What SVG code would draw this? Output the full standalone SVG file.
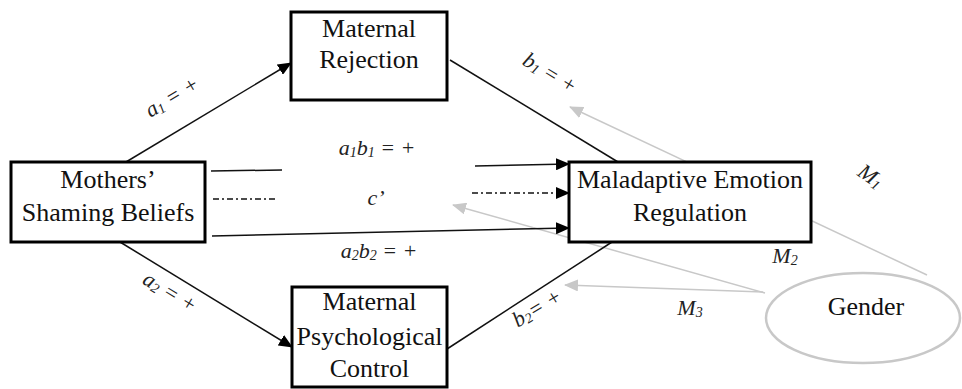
<svg xmlns="http://www.w3.org/2000/svg" width="962" height="389" viewBox="0 0 962 389">
<style>
.box{fill:#fff;stroke:#000;stroke-width:3}
.nt{font-family:"Liberation Serif","Times New Roman",serif;font-size:26px;fill:#111;text-anchor:middle}
.lb{font-family:"Liberation Serif","Times New Roman",serif;font-size:22px;font-style:italic;fill:#222;text-anchor:middle}
.ln{stroke:#111;stroke-width:1.5;fill:none}
.gl{stroke:#c8c8c8;stroke-width:1.5;fill:none}
.dd{stroke-dasharray:6 3 2 3}
</style>
<defs>
<marker id="ah" markerUnits="userSpaceOnUse" markerWidth="14" markerHeight="12" refX="13" refY="6" orient="auto"><path d="M0,0 L14,6 L0,12 Z" fill="#000"/></marker>
<marker id="ag" markerUnits="userSpaceOnUse" markerWidth="14" markerHeight="12" refX="13" refY="6" orient="auto"><path d="M0,0 L14,6 L0,12 Z" fill="#c8c8c8"/></marker>
</defs>
<g id="connectors">
<line class="gl" x1="927" y1="275" x2="570" y2="107" marker-end="url(#ag)"/>
<line class="gl" x1="765" y1="293" x2="453" y2="205" marker-end="url(#ag)"/>
<line class="gl" x1="763" y1="292" x2="565" y2="285" marker-end="url(#ag)"/>
<line class="ln" x1="126" y1="162" x2="291" y2="63" marker-end="url(#ah)"/>
<line class="ln" x1="120" y1="242" x2="292" y2="347" marker-end="url(#ah)"/>
<line class="ln" x1="450" y1="60" x2="618" y2="162"/>
<line class="ln" x1="447" y1="349" x2="612" y2="242"/>
<line class="ln" x1="211" y1="171" x2="282" y2="170"/>
<line class="ln" x1="475" y1="166" x2="569" y2="164" marker-end="url(#ah)"/>
<line class="ln dd" x1="213" y1="199" x2="278" y2="199"/>
<line class="ln dd" x1="472" y1="193" x2="569" y2="193" marker-end="url(#ah)"/>
<line class="ln" x1="212" y1="236" x2="569" y2="228" marker-end="url(#ah)"/>
<text class="lb" transform="rotate(-31 172 97)" x="172" y="104">a<tspan font-size="14" dy="2">1</tspan><tspan dy="-2"> = +</tspan></text>
<text class="lb" transform="rotate(31 550 73)" x="550" y="80">b<tspan font-size="14" dy="2">1</tspan><tspan dy="-2"> = +</tspan></text>
<text class="lb" transform="rotate(31 170 292)" x="170" y="299">a<tspan font-size="14" dy="2">2</tspan><tspan dy="-2"> = +</tspan></text>
<text class="lb" transform="rotate(-31 537 308)" x="537" y="315" font-style="normal">b<tspan font-size="14" dy="2">2</tspan><tspan dy="-2">= +</tspan></text>
<text class="lb" x="377" y="155">a<tspan font-size="14" dy="2">1</tspan><tspan dy="-2">b</tspan><tspan font-size="14" dy="2">1</tspan><tspan dy="-2"> = +</tspan></text>
<text class="lb" x="376" y="205">c’</text>
<text class="lb" x="379" y="258">a<tspan font-size="14" dy="2">2</tspan><tspan dy="-2">b</tspan><tspan font-size="14" dy="2">2</tspan><tspan dy="-2"> = +</tspan></text>
<text class="lb" transform="rotate(35 870 177)" x="870" y="183">M<tspan font-size="14" dy="2">1</tspan></text>
<text class="lb" x="785" y="263">M<tspan font-size="14" dy="2">2</tspan></text>
<text class="lb" x="690" y="315">M<tspan font-size="14" dy="2">3</tspan></text>
</g>
<g id="maternal-rejection">
<rect class="box" x="291" y="12" width="156" height="88"/>
<text class="nt" x="369" y="37">Maternal</text>
<text class="nt" x="369" y="68">Rejection</text>
</g>
<g id="mothers-shaming-beliefs">
<rect class="box" x="11" y="162" width="194" height="80"/>
<text class="nt" x="108" y="188">Mothers’</text>
<text class="nt" x="108" y="221">Shaming Beliefs</text>
</g>
<g id="maladaptive-emotion-regulation">
<rect class="box" x="569" y="162" width="242" height="80"/>
<text class="nt" x="690" y="188">Maladaptive Emotion</text>
<text class="nt" x="690" y="221">Regulation</text>
</g>
<g id="maternal-psychological-control">
<rect class="box" x="292" y="287" width="155" height="100"/>
<text class="nt" x="369.5" y="310">Maternal</text>
<text class="nt" x="369.5" y="345">Psychological</text>
<text class="nt" x="369.5" y="377">Control</text>
</g>
<g id="gender">
<ellipse cx="863" cy="318" rx="97" ry="45" fill="none" stroke="#c8c8c8" stroke-width="2.5"/>
<text class="nt" x="866" y="315">Gender</text>
</g>
</svg>
